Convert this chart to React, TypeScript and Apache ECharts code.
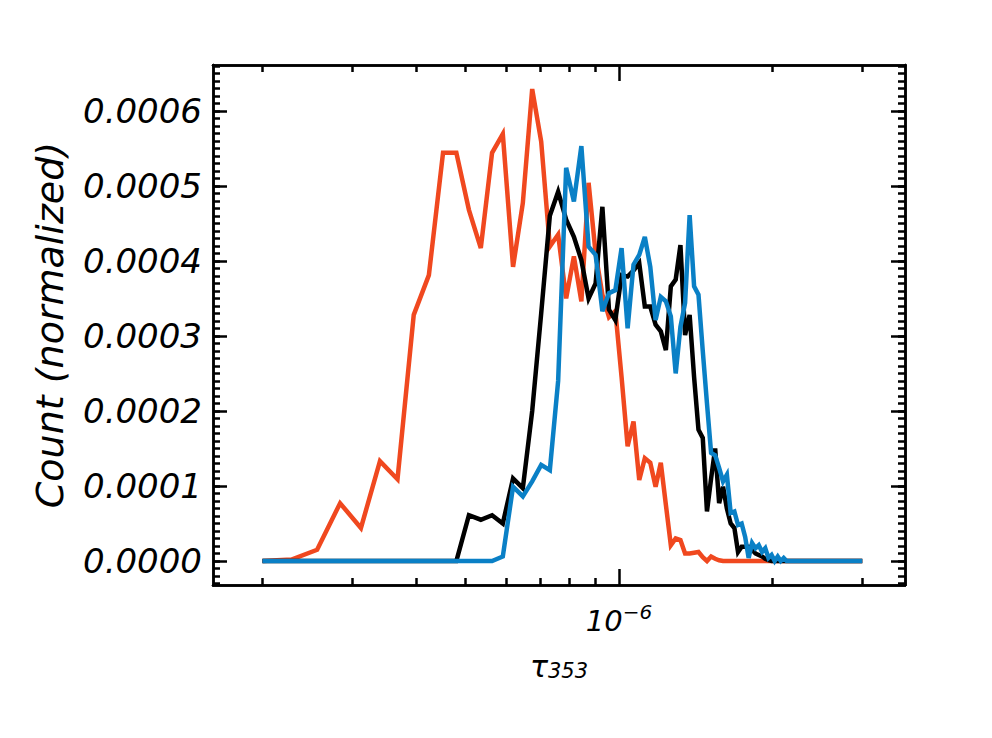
import React, { useEffect, useRef } from "react";
import * as echarts from "echarts";

// tau_353 bin centres, in units of 1e-7
const tauBinsE7 = [
  2.00, 2.28, 2.56, 2.84, 3.12, 3.40, 3.68, 3.96, 4.24, 4.52,
  4.80, 5.08, 5.36, 5.64, 5.92, 6.20, 6.48, 6.76, 7.04, 7.32,
  7.60, 7.88, 8.16, 8.44, 8.72, 9.00, 9.28, 9.56, 9.84, 10.12,
  10.40, 10.68, 10.96, 11.24, 11.52, 11.80, 12.08, 12.36, 12.64, 12.92,
  13.20, 13.48, 13.76, 14.04, 14.32, 14.60, 14.88, 15.16, 15.44, 15.72,
  16.00, 16.28, 16.56, 16.84, 17.12, 17.40, 17.68, 17.96, 18.24, 18.52,
  18.80, 19.08, 19.36, 19.64, 19.92, 20.20, 20.48, 20.76, 21.04, 21.32,
  21.60, 21.88, 22.16, 22.44, 22.72, 23.00, 23.28, 23.56, 23.84, 24.12,
  24.40, 24.68, 24.96, 25.24, 25.52, 25.80, 26.08, 26.36, 26.64, 26.92,
  27.20, 27.48, 27.76, 28.04, 28.32, 28.60, 28.88, 29.16, 29.44, 29.72,
  30.00,
];

// normalized counts, in units of 1e-4
const redCountsE4 = [
  0, 0.02, 0.15, 0.77, 0.44, 1.33, 1.09, 3.28, 3.81, 5.44,
  5.44, 4.68, 4.17, 5.44, 5.69, 3.92, 4.77, 6.29, 5.59, 4.19,
  4.35, 3.50, 4.06, 3.46, 5.04, 4.10, 3.55, 3.25, 3.33, 2.45,
  1.53, 1.86, 1.08, 1.37, 1.31, 0.99, 1.31, 0.75, 0.21, 0.30,
  0.28, 0.10, 0.10, 0.11, 0.12, 0.05, 0.00, 0.06, 0.03, 0.01,
  0, 0, 0, 0, 0, 0, 0, 0, 0, 0,
  0, 0, 0, 0, 0, 0, 0, 0, 0, 0,
  0, 0, 0, 0, 0, 0, 0, 0, 0, 0,
  0, 0, 0, 0, 0, 0, 0, 0, 0, 0,
  0, 0, 0, 0, 0, 0, 0, 0, 0, 0,
  0,
];

const blackCountsE4 = [
  0, 0, 0, 0, 0, 0, 0, 0, 0, 0,
  0, 0.61, 0.55, 0.61, 0.50, 1.10, 0.97, 2.00, 3.30, 4.60,
  4.92, 4.55, 4.32, 4.01, 3.50, 3.70, 4.72, 3.35, 3.21, 3.81,
  3.79, 3.87, 3.97, 3.39, 3.39, 3.15, 3.06, 2.81, 3.66, 3.75,
  4.21, 3.01, 3.28, 2.45, 1.75, 1.64, 0.66, 1.10, 1.50, 0.77,
  0.99, 0.70, 0.50, 0.44, 0.12, 0.19, 0.19, 0.19, 0.15, 0.10,
  0.08, 0.06, 0.03, 0.01, 0, 0, 0, 0, 0, 0,
  0, 0, 0, 0, 0, 0, 0, 0, 0, 0,
  0, 0, 0, 0, 0, 0, 0, 0, 0, 0,
  0, 0, 0, 0, 0, 0, 0, 0, 0, 0,
  0,
];

const blueCountsE4 = [
  0, 0, 0, 0, 0, 0, 0, 0, 0, 0,
  0, 0, 0, 0, 0.06, 0.99, 0.86, 1.06, 1.28, 1.21,
  2.40, 5.24, 4.79, 5.53, 4.19, 4.08, 3.33, 3.57, 3.61, 4.17,
  3.10, 3.95, 4.08, 4.32, 3.92, 3.21, 3.52, 3.46, 3.26, 2.50,
  3.12, 3.44, 4.61, 3.66, 3.55, 2.80, 2.10, 1.44, 1.41, 1.24,
  1.06, 1.15, 0.64, 0.66, 0.48, 0.50, 0.32, 0.04, 0.24, 0.17,
  0.21, 0.12, 0.17, 0.04, 0.08, 0.00, 0.06, 0.00, 0.04, 0,
  0, 0, 0, 0, 0, 0, 0, 0, 0, 0,
  0, 0, 0, 0, 0, 0, 0, 0, 0, 0,
  0, 0, 0, 0, 0, 0, 0, 0, 0, 0,
  0,
];

const yMajorTicks = [0, 0.0001, 0.0002, 0.0003, 0.0004, 0.0005, 0.0006];
const yMinorTicks = [
  -0.00003, -0.00002, -0.00001, 0, 0.00001, 0.00002, 0.00003, 0.00004, 0.00005, 0.00006,
  0.00007, 0.00008, 0.00009, 0.0001, 0.00011, 0.00012, 0.00013, 0.00014, 0.00015, 0.00016,
  0.00017, 0.00018, 0.00019, 0.0002, 0.00021, 0.00022, 0.00023, 0.00024, 0.00025, 0.00026,
  0.00027, 0.00028, 0.00029, 0.0003, 0.00031, 0.00032, 0.00033, 0.00034, 0.00035, 0.00036,
  0.00037, 0.00038, 0.00039, 0.0004, 0.00041, 0.00042, 0.00043, 0.00044, 0.00045, 0.00046,
  0.00047, 0.00048, 0.00049, 0.0005, 0.00051, 0.00052, 0.00053, 0.00054, 0.00055, 0.00056,
  0.00057, 0.00058, 0.00059, 0.0006, 0.00061, 0.00062, 0.00063, 0.00064, 0.00065, 0.00066,
];
const xMajorTicks = [1e-6];
const xMinorTicks = [2e-7, 3e-7, 4e-7, 5e-7, 6e-7, 7e-7, 8e-7, 9e-7, 2e-6, 3e-6];

const FONT = "DejaVu Sans";
const Y_MIN = -0.000032;
const Y_MAX = 0.000661;
const X_MIN = 1.6e-7;
const X_MAX = 3.638e-6;

const SERIES_COLORS = { red: "#f0481f", black: "#000000", blue: "#0a80c6" };

function pairs(counts: number[]) {
  return tauBinsE7.map((t, i) => [t * 1e-7, counts[i] * 1e-4]);
}

function lineSeries(name: string, counts: number[], color: string) {
  return {
    name,
    type: "line",
    data: pairs(counts),
    xAxisIndex: 0,
    yAxisIndex: 0,
    showSymbol: false,
    symbol: "none",
    itemStyle: { color },
    lineStyle: { width: 4.5, color, join: "miter", cap: "butt" },
  };
}

export default function App() {
  const ref = useRef<HTMLDivElement>(null);
  useEffect(() => {
    document.body.style.margin = "0";
    if (!ref.current) return;
    const chart = echarts.init(ref.current, undefined, { renderer: "svg" });
    const axisLine = { show: true, onZero: false, lineStyle: { color: "#000", width: 2.5 } };
    const yBase = (pos: "left" | "right", ticks: number[], len: number, labels: boolean, name?: boolean) => ({
      type: "value",
      position: pos,
      min: Y_MIN,
      max: Y_MAX,
      axisLine,
      splitLine: { show: false },
      axisTick: { show: true, inside: true, length: len, customValues: ticks, lineStyle: { color: "#000", width: 2.5 } },
      axisLabel: labels
        ? {
            show: true,
            customValues: yMajorTicks,
            margin: 11,
            color: "#000",
            fontFamily: FONT,
            fontStyle: "italic",
            fontSize: 34,
            formatter: (v: number) => Math.abs(v).toFixed(4),
          }
        : { show: false },
      name: name ? "Count (normalized)" : "",
      nameLocation: "middle",
      nameGap: 144,
      nameTextStyle: { color: "#000", fontFamily: FONT, fontStyle: "italic", fontSize: 38 },
    });
    const xBase = (pos: "bottom" | "top", ticks: number[], len: number, labels: boolean, name?: boolean) => ({
      type: "log",
      logBase: 10,
      position: pos,
      min: X_MIN,
      max: X_MAX,
      axisLine,
      splitLine: { show: false },
      axisTick: { show: true, inside: true, length: len, customValues: ticks, lineStyle: { color: "#000", width: 2.5 } },
      axisLabel: labels
        ? {
            show: true,
            customValues: xMajorTicks,
            margin: 17,
            formatter: () => "{b|10}{p|\u22126}",
            rich: {
              b: { fontFamily: FONT, fontStyle: "italic", fontSize: 29, lineHeight: 29, color: "#000", padding: [9, 0, 0, 0] },
              p: { fontFamily: FONT, fontStyle: "italic", fontSize: 20, lineHeight: 20, color: "#000", verticalAlign: "top" },
            },
          }
        : { show: false },
      name: name ? "{t|\u03c4}{s|353}" : "",
      nameLocation: "middle",
      nameGap: 66,
      nameTextStyle: {
        rich: {
          t: { fontFamily: FONT, fontStyle: "italic", fontSize: 30, lineHeight: 30, color: "#000", verticalAlign: "top" },
          s: { fontFamily: FONT, fontStyle: "italic", fontSize: 21, lineHeight: 21, color: "#000", padding: [17, 0, 0, 0], verticalAlign: "bottom" },
        },
      },
    });
    chart.setOption({
      animation: false,
      backgroundColor: "#fff",
      grid: { left: 213, top: 65, width: 692, height: 520, containLabel: false },
      xAxis: [
        xBase("bottom", xMajorTicks, 16, true, true),
        xBase("bottom", xMinorTicks, 7, false),
        xBase("top", xMajorTicks, 16, false),
        xBase("top", xMinorTicks, 7, false),
      ],
      yAxis: [
        yBase("left", yMajorTicks, 14, true, true),
        yBase("left", yMinorTicks, 7, false),
        yBase("right", yMajorTicks, 14, false),
        yBase("right", yMinorTicks, 7, false),
      ],
      series: [
        lineSeries("red", redCountsE4, SERIES_COLORS.red),
        lineSeries("black", blackCountsE4, SERIES_COLORS.black),
        lineSeries("blue", blueCountsE4, SERIES_COLORS.blue),
      ],
    });
    return () => chart.dispose();
  }, []);
  return <div ref={ref} style={{ width: 992, height: 738 }} />;
}
